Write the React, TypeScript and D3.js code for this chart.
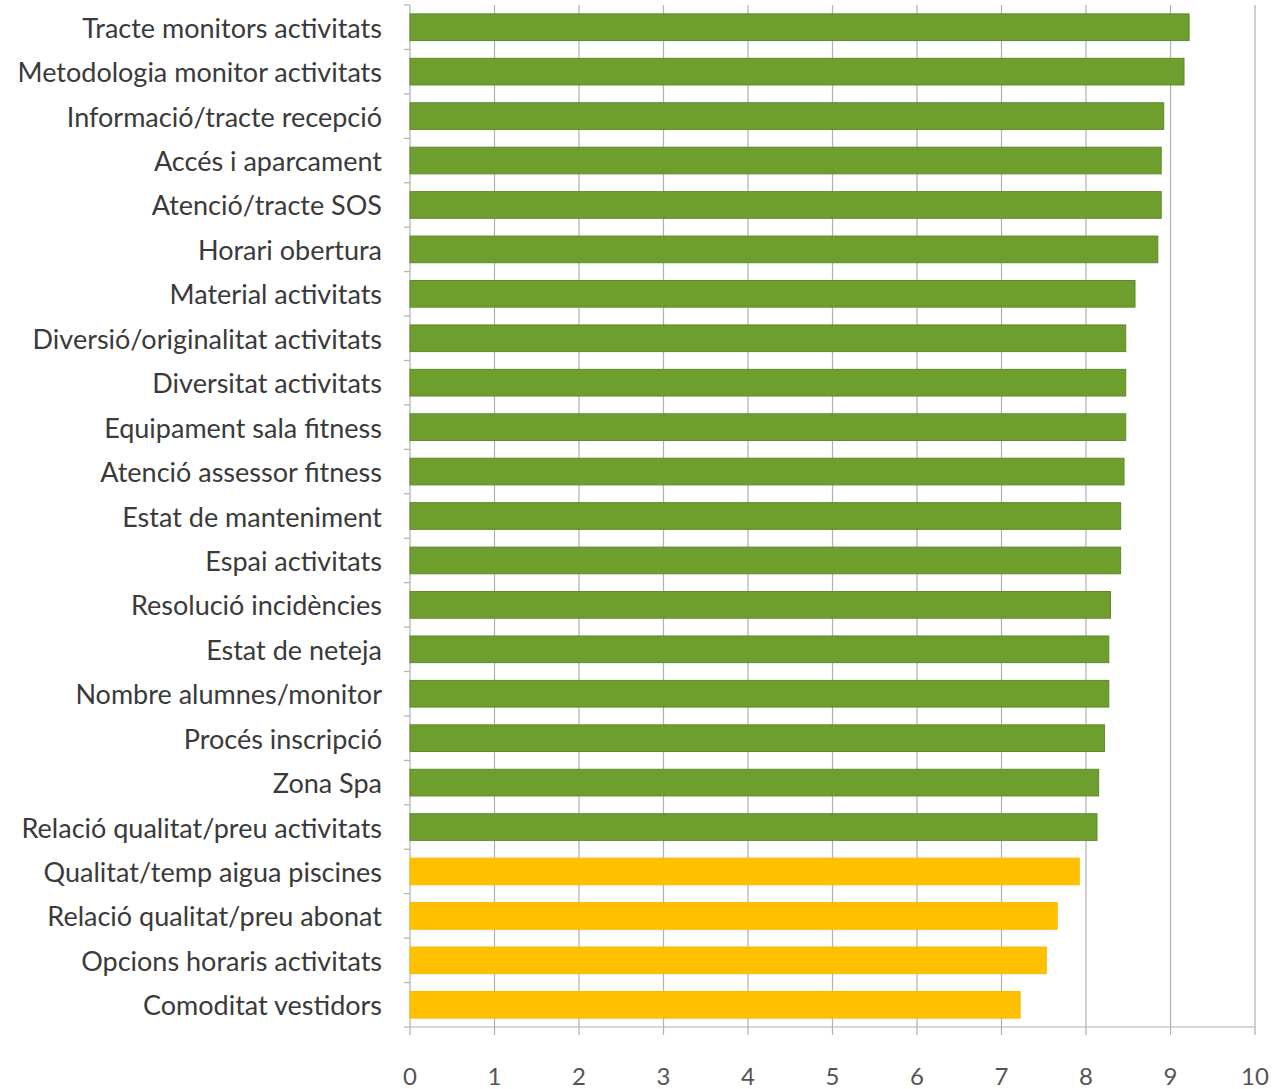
import React from "react";
import * as d3 from "d3";

const categories = [
  "Tracte monitors activitats",
  "Metodologia monitor activitats",
  "Informació/tracte recepció",
  "Accés i aparcament",
  "Atenció/tracte SOS",
  "Horari obertura",
  "Material activitats",
  "Diversió/originalitat activitats",
  "Diversitat activitats",
  "Equipament sala fitness",
  "Atenció assessor fitness",
  "Estat de manteniment",
  "Espai activitats",
  "Resolució incidències",
  "Estat de neteja",
  "Nombre alumnes/monitor",
  "Procés inscripció",
  "Zona Spa",
  "Relació qualitat/preu activitats",
  "Qualitat/temp aigua piscines",
  "Relació qualitat/preu abonat",
  "Opcions horaris activitats",
  "Comoditat vestidors",
];

const values = [
  9.22, 9.16, 8.92, 8.89, 8.89, 8.85, 8.58, 8.47, 8.47, 8.47, 8.45, 8.41, 8.41,
  8.29, 8.27, 8.27, 8.22, 8.15, 8.13, 7.92, 7.66, 7.53, 7.22,
];

const xTicks = [0, 1, 2, 3, 4, 5, 6, 7, 8, 9, 10];

export default function App() {
  const W = 1272;
  const H = 1089;
  const left = 410;
  const right = 1255;
  const top = 5;
  const bottom = 1027;

  const x = d3.scaleLinear().domain([0, 10]).range([left, right]);
  const y = d3
    .scaleBand<string>()
    .domain(categories)
    .range([top, bottom])
    .paddingInner(0.4)
    .paddingOuter(0.2);

  const step = y.step();
  const font = "Lato, 'Open Sans', sans-serif";

  return (
    <svg
      width={W}
      height={H}
      style={{ position: "absolute", left: 0, top: 0, background: "#fff" }}
    >
      {xTicks.map((t) => (
        <line
          key={"g" + t}
          x1={x(t)}
          x2={x(t)}
          y1={top}
          y2={bottom + 8}
          stroke="#b0b0b0"
          strokeWidth={1.2}
        />
      ))}
      <line x1={left} x2={right} y1={bottom} y2={bottom} stroke="#b0b0b0" strokeWidth={1.2} />
      {d3.range(categories.length + 1).map((i) => (
        <line
          key={"lt" + i}
          x1={left - 6}
          x2={left}
          y1={top + i * step}
          y2={top + i * step}
          stroke="#b0b0b0"
          strokeWidth={1.2}
        />
      ))}
      {categories.map((c, i) => {
        const v = values[i];
        const green = v >= 8;
        return (
          <rect
            key={c}
            x={x(0)}
            y={y(c)}
            width={x(v) - x(0)}
            height={y.bandwidth()}
            fill={green ? "#6e9e2e" : "#ffc000"}
            stroke={green ? "#5f8a28" : "#f5bb00"}
            strokeWidth={1}
          />
        );
      })}
      {categories.map((c) => (
        <text
          key={"l" + c}
          x={382}
          y={(y(c) as number) + y.bandwidth() / 2}
          textAnchor="end"
          dominantBaseline="central"
          fontFamily={font}
          fontSize={27}
          fill="#3a3a3a"
        >
          {c}
        </text>
      ))}
      {xTicks.map((t) => (
        <text
          key={"xt" + t}
          x={x(t)}
          y={1075}
          textAnchor="middle"
          dominantBaseline="central"
          fontFamily={font}
          fontSize={24}
          fill="#555"
        >
          {t}
        </text>
      ))}
    </svg>
  );
}
